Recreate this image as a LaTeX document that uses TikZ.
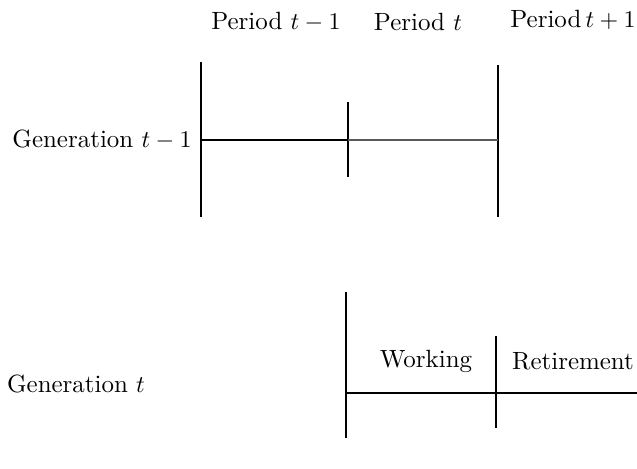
\documentclass[tikz,border=0pt]{standalone}
\begin{document}
\begin{tikzpicture}[x=0.417pt,y=-0.417pt,
  lbl/.style={inner sep=0pt,font=\fontsize{10.4}{12}\selectfont},
  thickbar/.style={line width=1.1pt},
  midbar/.style={line width=0.85pt},
  thinbar/.style={line width=0.6pt}]
\useasboundingbox (0,0) rectangle (637,468);
% labels
\node[lbl] (p1) at (276,22) {Period $t-1$};
\node[lbl] (p2) at (418,22) {Period $t$};
\node[lbl] (p3) at (573,20) {Period\,$t+1$};
\node[lbl] (g1) at (102,140) {Generation $t-1$};
\node[lbl] (g2) at (76,384) {Generation $t$};
\node[lbl] (w) at (426,361) {Working};
\node[lbl] (r) at (573,361) {Retirement};
% top coordinates
\coordinate (a1) at (201,62);  \coordinate (a2) at (201,217);
\coordinate (b1) at (348,102); \coordinate (b2) at (348,177);
\coordinate (c1) at (498,65);  \coordinate (c2) at (498,217);
\coordinate (h1) at (201,140); \coordinate (h2) at (348,140); \coordinate (h3) at (498,140);
\draw[thickbar] (a1) -- (a2);
\draw[thickbar] (c1) -- (c2);
\draw[midbar] (b1) -- (b2);
\draw[midbar] (h1) -- (h2);
\draw[line width=0.8pt,black!65] (h2) -- (h3);
% bottom coordinates
\coordinate (d1) at (346,292); \coordinate (d2) at (346,438);
\coordinate (e1) at (496,336); \coordinate (e2) at (496,428);
\coordinate (k1) at (346,393); \coordinate (k2) at (637,393);
\draw[midbar] (d1) -- (d2);
\draw[thinbar] (e1) -- (e2);
\draw[thinbar] (k1) -- (k2);
\end{tikzpicture}
\end{document}
